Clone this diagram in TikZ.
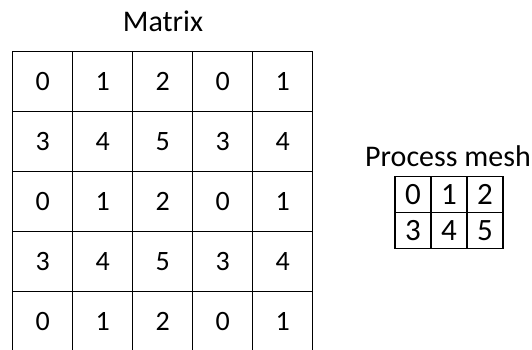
\documentclass[tikz,border=0pt]{standalone}
\usepackage{fontspec}
\setmainfont{Carlito}
\begin{document}
\begin{tikzpicture}[x=1pt,y=-1pt,
  cell/.style={draw,line width=1.4pt,minimum size=60pt,inner sep=0pt,font=\fontsize{28}{28}\selectfont},
  meshcell/.style={draw,line width=1.4pt,minimum size=36pt,inner sep=0pt,font=\fontsize{31}{31}\selectfont},
  title/.style={anchor=base,inner sep=0pt,font=\fontsize{30}{30}\selectfont}]
  \useasboundingbox (0,0) rectangle (532,350);
  \clip (0,0) rectangle (532,350);
  % Matrix
  \node[title] (mattitle) at (163,32) {Matrix};
  \foreach \r in {0,...,4}{
    \foreach \c in {0,...,4}{
      \pgfmathtruncatemacro{\v}{3*mod(\r,2)+mod(\c,3)}
      \node[cell] (m-\r-\c) at (42.7+60*\c,81.7+60*\r) {\v};
    }
  }
  % Process mesh
  \node[title] (meshtitle) at (448,166.7) {Process mesh};
  \foreach \r in {0,1}{
    \foreach \c in {0,1,2}{
      \pgfmathtruncatemacro{\v}{3*\r+\c}
      \node[meshcell] (p-\r-\c) at (413+36*\c,194.7+36*\r) {\v};
    }
  }
\end{tikzpicture}
\end{document}
